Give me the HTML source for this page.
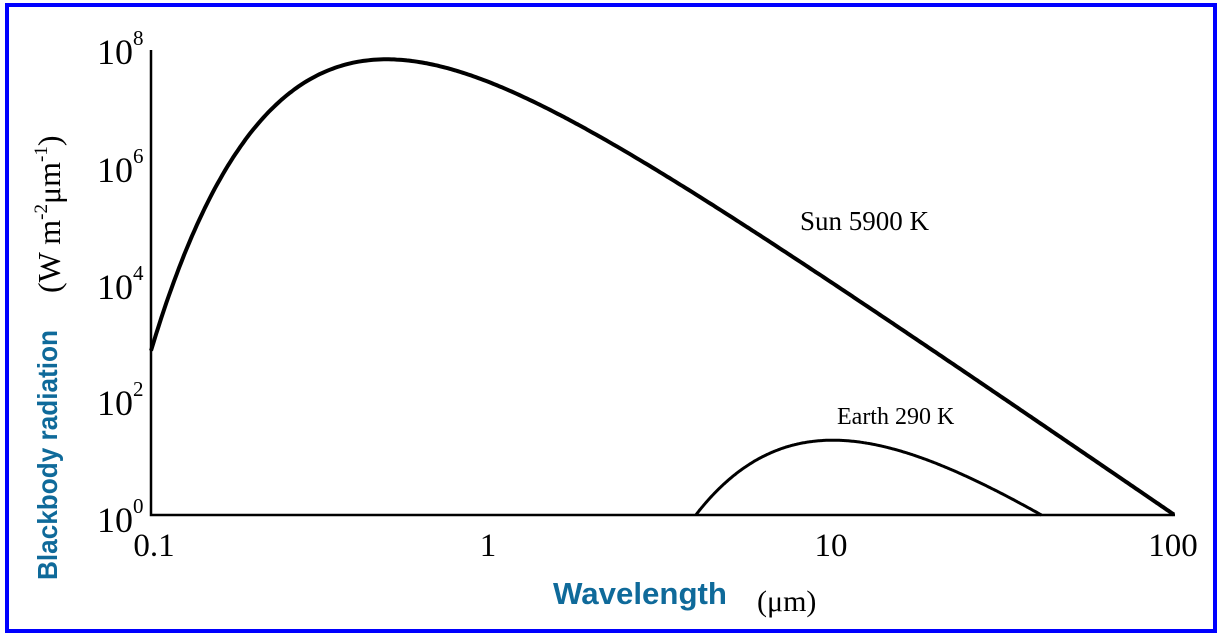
<!DOCTYPE html>
<html><head><meta charset="utf-8"><style>
html,body{margin:0;padding:0;background:#fff;}
svg{display:block;}
</style></head><body>
<svg id="s" width="1222" height="637" xmlns="http://www.w3.org/2000/svg">
<rect x="7" y="5" width="1208" height="626" fill="#fff" stroke="#0000ff" stroke-width="4"/>
<path d="M151 50 V515 H1175" fill="none" stroke="#000" stroke-width="2.5"/>
<path id="sun" fill="none" stroke="#000" stroke-width="4" stroke-linejoin="round"/>
<path id="earth" fill="none" stroke="#000" stroke-width="3"/>
<g font-family="Liberation Serif, serif" font-size="36" fill="#000">
<text x="97" y="64">10<tspan font-size="21" dy="-19">8</tspan></text>
<text x="97" y="182">10<tspan font-size="21" dy="-19">6</tspan></text>
<text x="97" y="299">10<tspan font-size="21" dy="-19">4</tspan></text>
<text x="97" y="415">10<tspan font-size="21" dy="-19">2</tspan></text>
<text x="97" y="532">10<tspan font-size="21" dy="-19">0</tspan></text>
<text x="154" y="556" text-anchor="middle" font-size="33">0.1</text>
<text x="488" y="556" text-anchor="middle" font-size="33">1</text>
<text x="831" y="556" text-anchor="middle" font-size="33">10</text>
<text x="1173" y="556" text-anchor="middle" font-size="33">100</text>
<text x="757" y="611" font-size="30">(μm)</text>
<text x="800" y="230" font-size="27">Sun 5900 K</text>
<text x="837" y="424" font-size="24">Earth 290 K</text>
<text transform="translate(60,293) rotate(-90)" font-size="32">(W m<tspan font-size="19" dy="-13">-2</tspan><tspan dy="13">μm</tspan><tspan font-size="19" dy="-13">-1</tspan><tspan dy="13">)</tspan></text>
</g>
<g font-family="Liberation Sans, sans-serif" font-weight="bold" fill="#0f6a9a">
<text transform="translate(57,580) rotate(-90)" font-size="28" textLength="250" lengthAdjust="spacingAndGlyphs">Blackbody radiation</text>
<text x="553" y="604" font-size="31" textLength="174" lengthAdjust="spacingAndGlyphs">Wavelength</text>
</g>
</svg>
<script>
function M(l,T){return 3.742e8/Math.pow(l,5)/(Math.exp(14388/(l*T))-1);}
function X(l){return 151+341*Math.log10(l/0.1);}
function Y(v){return 515-58.5*Math.log10(v);}
function build(T,l0,l1,s,base){var d="",n=400;for(var i=0;i<=n;i++){var l=l0*Math.pow(l1/l0,i/n);var v=M(l,T)*s;if(v<1){if(d){d+="L"+X(l).toFixed(1)+" 515";break;}else continue;}if(!d){d=base?"M"+X(l).toFixed(1)+" 515L":"M";}else d+="L";d+=X(l).toFixed(1)+" "+Y(v).toFixed(1);}return d;}
document.getElementById("sun").setAttribute("d",build(5900,0.1,100,0.67,false));
document.getElementById("earth").setAttribute("d",build(290,3.5,60,0.72,true));
</script>
</body></html>
